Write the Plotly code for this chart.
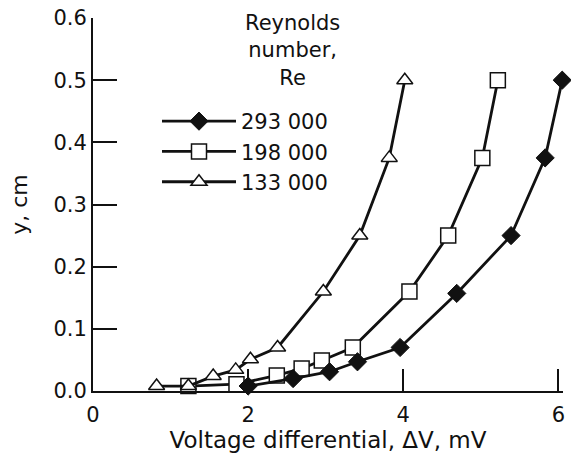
import plotly.graph_objects as go

# ---- data ----
re_labels = ["293 000", "198 000", "133 000"]

x_293 = [2.00, 2.58, 3.05, 3.41, 3.96, 4.69, 5.39, 5.83, 6.05]
y_293 = [0.008, 0.020, 0.031, 0.047, 0.070, 0.157, 0.250, 0.375, 0.500]

x_198 = [1.23, 1.85, 2.37, 2.69, 2.95, 3.35, 4.08, 4.58, 5.02, 5.22]
y_198 = [0.008, 0.011, 0.025, 0.036, 0.049, 0.070, 0.160, 0.250, 0.375, 0.500]

x_133 = [0.82, 1.23, 1.55, 1.84, 2.03, 2.38, 2.97, 3.44, 3.82, 4.02]
y_133 = [0.008, 0.008, 0.024, 0.034, 0.051, 0.070, 0.160, 0.250, 0.375, 0.500]

x_ticks = [0, 2, 4, 6]
y_ticks = [0.0, 0.1, 0.2, 0.3, 0.4, 0.5, 0.6]

FONT = "DejaVu Sans, Liberation Sans, Arial, sans-serif"
INK = "#111111"

fig = go.Figure()

# squares first, diamonds, then triangles on top
fig.add_trace(go.Scatter(
    x=x_198, y=y_198, name=re_labels[1], mode="lines+markers",
    line=dict(color=INK, width=2.8),
    marker=dict(symbol="square", size=15, color="white", line=dict(color=INK, width=1.5)),
    cliponaxis=False, legendrank=2,
))
fig.add_trace(go.Scatter(
    x=x_293, y=y_293, name=re_labels[0], mode="lines+markers",
    line=dict(color=INK, width=2.8),
    marker=dict(symbol="diamond", size=14, color=INK, line=dict(color=INK, width=1)),
    cliponaxis=False, legendrank=1,
))
fig.add_trace(go.Scatter(
    x=x_133, y=y_133, name=re_labels[2], mode="lines+markers",
    line=dict(color=INK, width=2.8),
    marker=dict(symbol="triangle-up", size=14, color="white", line=dict(color=INK, width=1.5)),
    cliponaxis=False, legendrank=3,
))

X_MAX = 6.06
L, R, T, B = 93, 8, 18, 72
W, H = 571, 463
pw, ph = W - L - R, H - T - B

def px_x(px):
    return (px - L) / pw

def px_y(py):
    return (H - B - py) / ph

fig.update_layout(
    width=W, height=H,
    margin=dict(l=L, r=R, t=T, b=B, pad=0),
    paper_bgcolor="white", plot_bgcolor="white",
    font=dict(family=FONT, size=21, color=INK),
    showlegend=True,
    legend=dict(
        x=px_x(157), y=px_y(101), xanchor="left", yanchor="top",
        bgcolor="rgba(0,0,0,0)", borderwidth=0,
        font=dict(family=FONT, size=21, color=INK),
        itemwidth=74, tracegroupgap=0,
    ),
    xaxis=dict(
        range=[0, X_MAX], tickvals=x_ticks, ticktext=[str(v) for v in x_ticks],
        ticks="inside", ticklen=22, tickwidth=1.5, tickcolor=INK,
        showline=True, linecolor=INK, linewidth=1.8, mirror=False,
        showgrid=False, zeroline=False, automargin=False,
        tickfont=dict(family=FONT, size=21, color=INK),
        ticklabelstandoff=4,
        title=dict(text="Voltage differential, \u0394V, mV",
                   font=dict(family=FONT, size=23, color=INK), standoff=6),
    ),
    yaxis=dict(
        range=[0, 0.6], tickvals=y_ticks, tickformat=".1f",
        ticks="inside", ticklen=24, tickwidth=1.5, tickcolor=INK,
        showline=True, linecolor=INK, linewidth=1.8, mirror=False,
        showgrid=False, zeroline=False, automargin=False,
        tickfont=dict(family=FONT, size=21, color=INK),
        ticklabelstandoff=0,
        title=dict(text="y, cm", font=dict(family=FONT, size=22, color=INK), standoff=20),
    ),
    annotations=[dict(
        text="Reynolds<br>number,<br>Re", xref="paper", yref="paper",
        x=px_x(292), y=px_y(50.5), xanchor="center", yanchor="middle",
        showarrow=False, align="center",
        font=dict(family=FONT, size=21, color=INK),
    )],
)

fig.write_html("out.html")
